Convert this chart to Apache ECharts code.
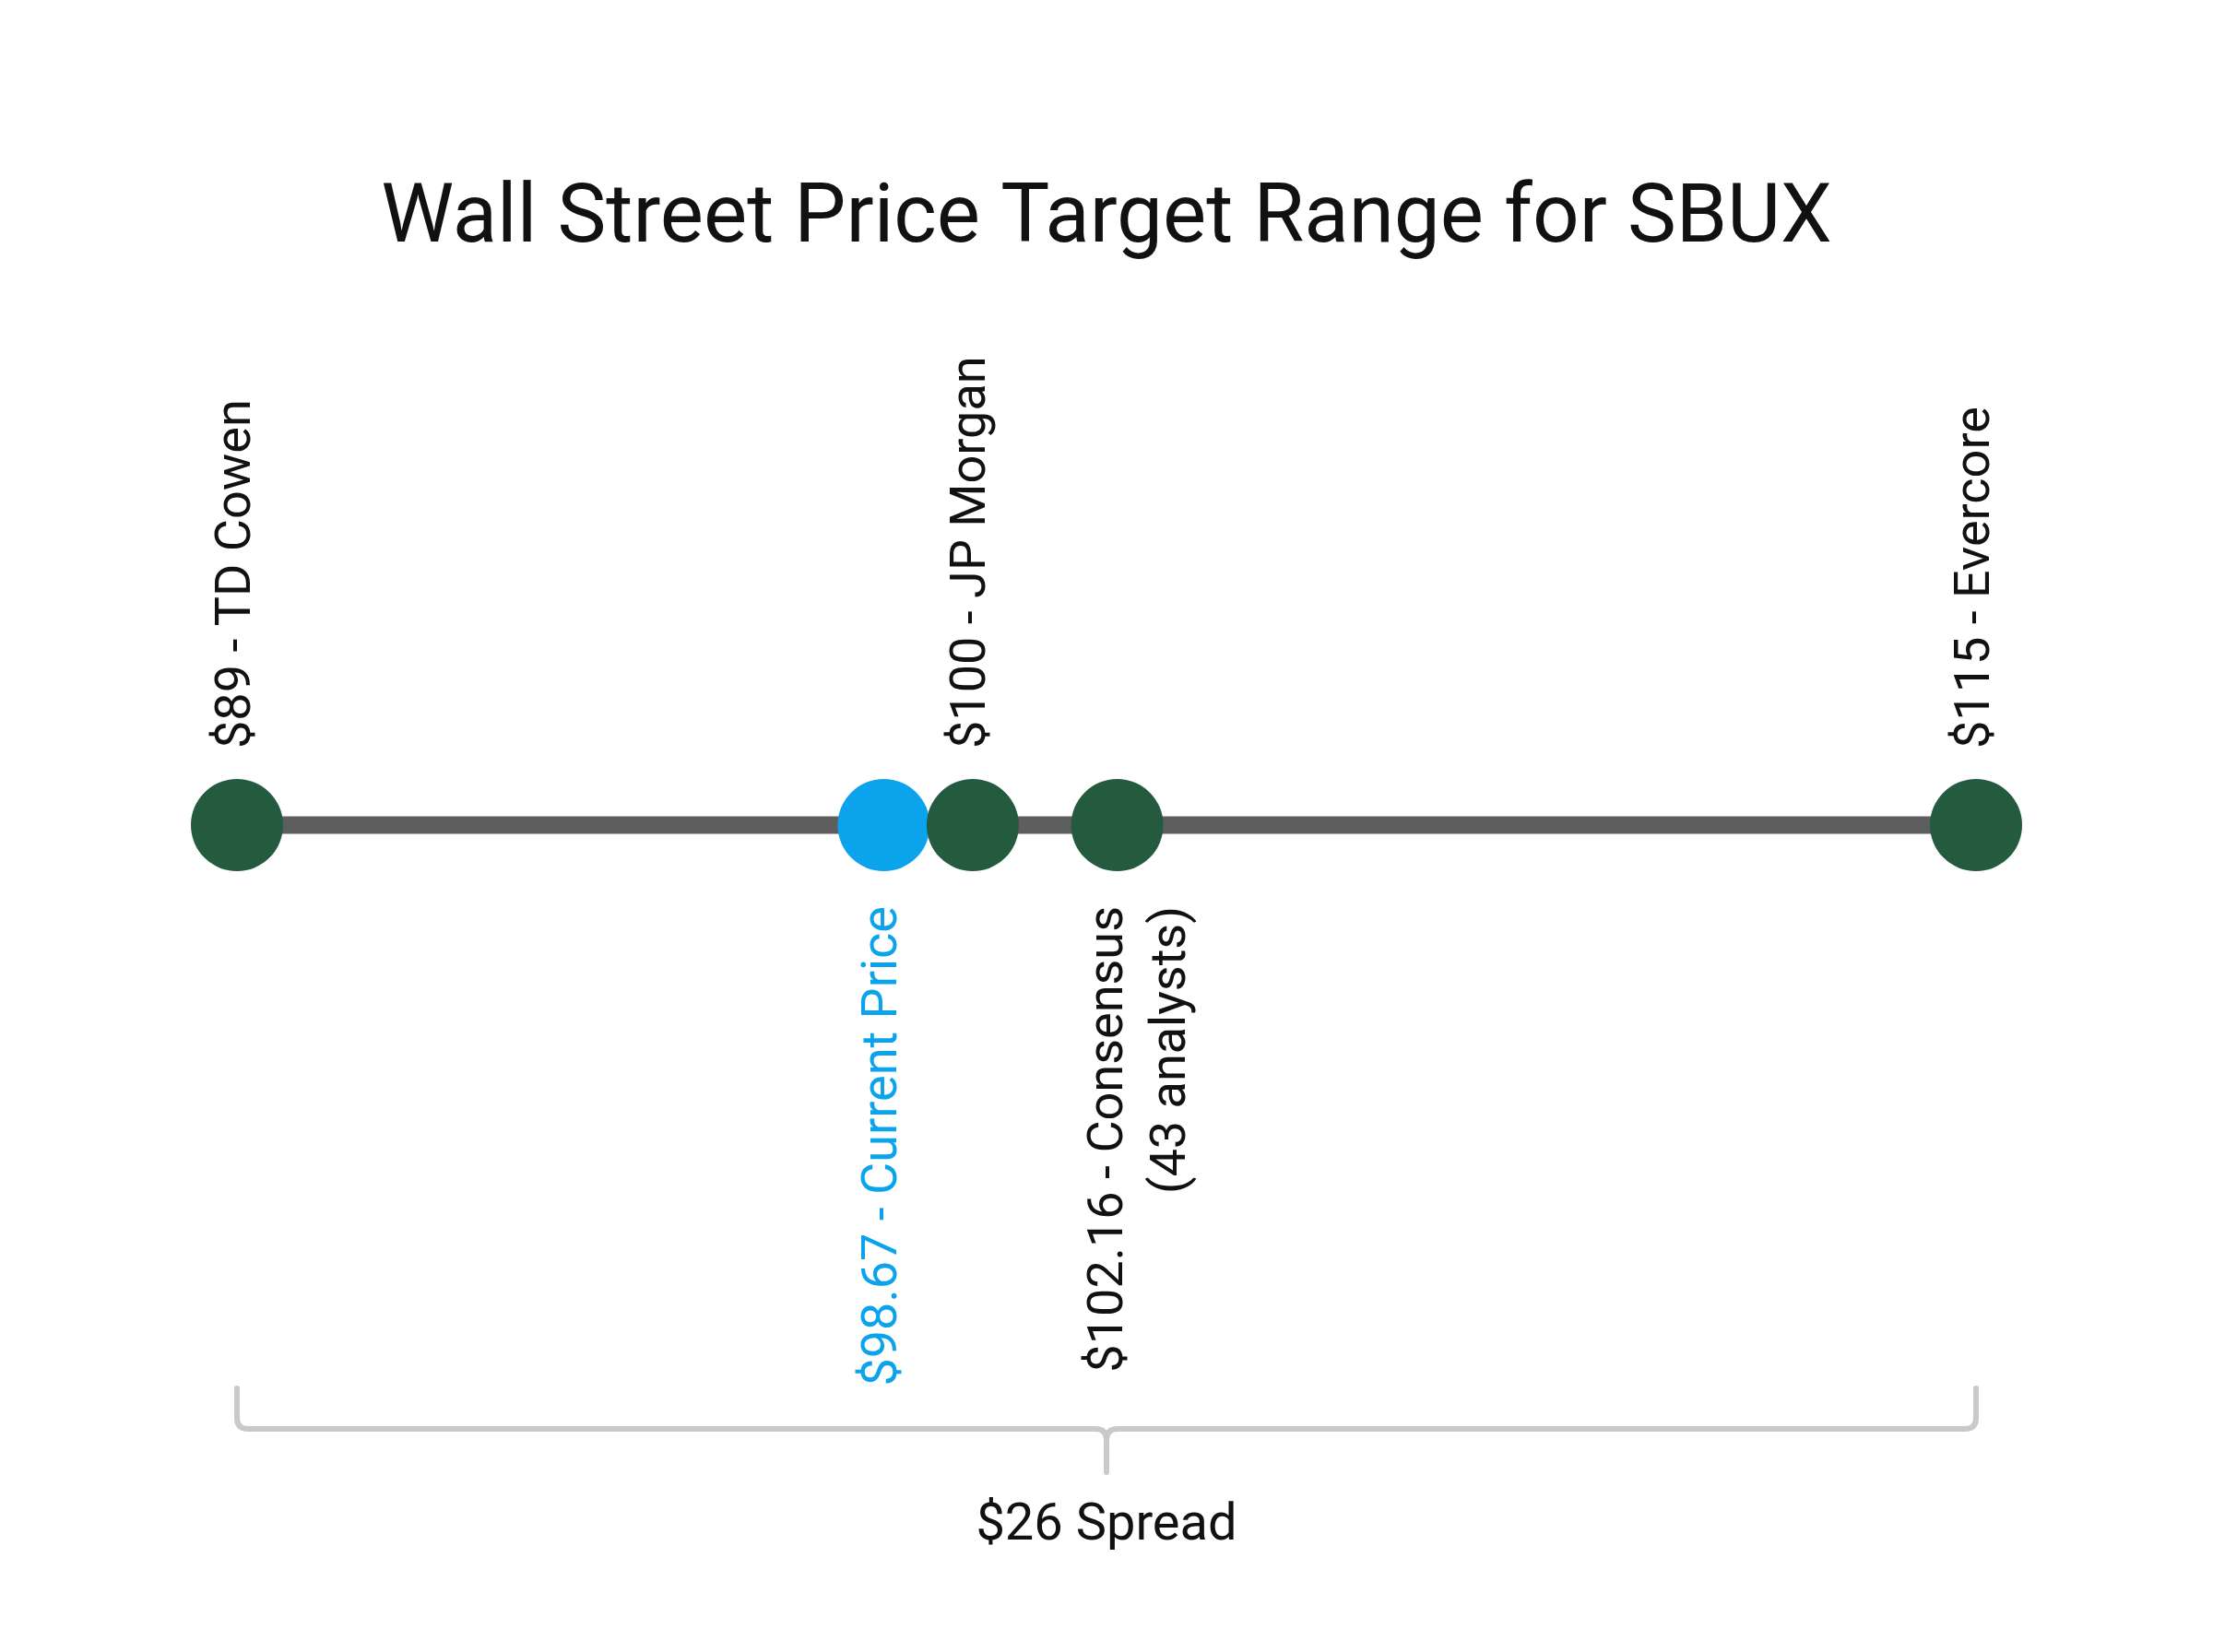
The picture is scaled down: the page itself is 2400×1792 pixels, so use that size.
<!DOCTYPE html>
<html>
<head>
<meta charset="utf-8">
<style>
  html, body { margin: 0; padding: 0; background: #ffffff; }
  #chart { width: 2400px; height: 1792px; }
</style>
<script src="https://cdn.jsdelivr.net/npm/echarts@6/dist/echarts.min.js"></script>
</head>
<body>
<div id="chart"></div>
<script>
// ---- data ----
const titleText = 'Wall Street Price Target Range for SBUX';
const pointNames = ['TD Cowen', 'Current Price', 'JP Morgan', 'Consensus', 'Evercore'];
const pointValues = [89, 98.67, 100, 102.16, 115];
const pointKinds = ['target', 'current', 'target', 'consensus', 'target'];
const pointNotes = ['', '', '', '(43 analysts)', ''];

// ---- derived ----
const lowTarget = Math.min(...pointValues);
const highTarget = Math.max(...pointValues);
const spread = highTarget - lowTarget;

const FONT = 'Roboto';
const GREEN = '#245b3f';
const BLUE = '#0ba4ec';
const TEXT = '#111111';

const scatterData = pointValues.map(function (v, i) {
  const kind = pointKinds[i];
  const isCurrent = kind === 'current';
  const below = kind === 'current' || kind === 'consensus';
  const label = below ? {
    position: 'bottom',
    distance: 38,
    align: 'right',
    verticalAlign: 'middle',
    offset: kind === 'consensus' ? [0, 26] : [0, 0]
  } : {
    position: 'top',
    distance: 33,
    align: 'left',
    verticalAlign: 'middle'
  };
  label.color = isCurrent ? BLUE : TEXT;
  return {
    name: pointNames[i],
    value: [v, 0],
    note: pointNotes[i],
    itemStyle: { color: isCurrent ? BLUE : GREEN, opacity: 1 },
    label: label
  };
});

const chart = echarts.init(document.getElementById('chart'), null, { renderer: 'canvas' });

chart.setOption({
  backgroundColor: '#ffffff',
  animation: false,
  title: {
    text: titleText,
    left: 'center',
    top: 190,
    textStyle: { fontFamily: FONT, fontSize: 89, fontWeight: 'normal', color: TEXT }
  },
  grid: { left: 257, right: 257, top: 240, bottom: 242 },
  xAxis: { type: 'value', min: lowTarget, max: highTarget, show: false },
  yAxis: { type: 'value', min: -1, max: 1, show: false },
  series: [
    {
      type: 'line',
      data: [[lowTarget, 0], [highTarget, 0]],
      symbol: 'none',
      lineStyle: { color: '#5e5e5e', width: 19, opacity: 1 },
      z: 1,
      silent: true
    },
    {
      type: 'scatter',
      data: scatterData,
      symbol: 'circle',
      symbolSize: 100,
      z: 3,
      itemStyle: { opacity: 1 },
      emphasis: { disabled: true },
      label: {
        show: true,
        rotate: 90,
        fontFamily: FONT,
        fontSize: 54,
        lineHeight: 68,
        opacity: 1,
        formatter: function (p) {
          let s = '$' + p.value[0] + ' - ' + p.name;
          if (p.data.note) s += '\n' + p.data.note;
          return s;
        }
      }
    },
    {
      type: 'custom',
      data: [[lowTarget, highTarget, spread]],
      z: 0,
      silent: true,
      renderItem: function (params, api) {
        const p1 = api.coord([api.value(0), -1]);
        const p2 = api.coord([api.value(1), -1]);
        const y = p1[1];
        const mx = (p1[0] + p2[0]) / 2;
        const r = 12;
        const up = 44;
        const down = 47;
        const path =
          'M' + p1[0] + ' ' + (y - up) +
          ' L' + p1[0] + ' ' + (y - r) +
          ' Q' + p1[0] + ' ' + y + ' ' + (p1[0] + r) + ' ' + y +
          ' L' + (mx - r) + ' ' + y +
          ' Q' + mx + ' ' + y + ' ' + mx + ' ' + (y + r) +
          ' L' + mx + ' ' + (y + down) +
          ' M' + p2[0] + ' ' + (y - up) +
          ' L' + p2[0] + ' ' + (y - r) +
          ' Q' + p2[0] + ' ' + y + ' ' + (p2[0] - r) + ' ' + y +
          ' L' + (mx + r) + ' ' + y +
          ' Q' + mx + ' ' + y + ' ' + mx + ' ' + (y + r);
        return {
          type: 'group',
          children: [
            {
              type: 'path',
              shape: { pathData: path },
              style: { fill: 'none', stroke: '#c9c9c9', lineWidth: 6, lineCap: 'round', lineJoin: 'round' }
            },
            {
              type: 'text',
              style: {
                text: '$' + api.value(2) + ' Spread',
                x: mx,
                y: y + 106,
                align: 'center',
                verticalAlign: 'middle',
                fontFamily: FONT,
                fontSize: 56,
                fill: TEXT
              }
            }
          ]
        };
      }
    }
  ]
});
</script>
</body>
</html>
